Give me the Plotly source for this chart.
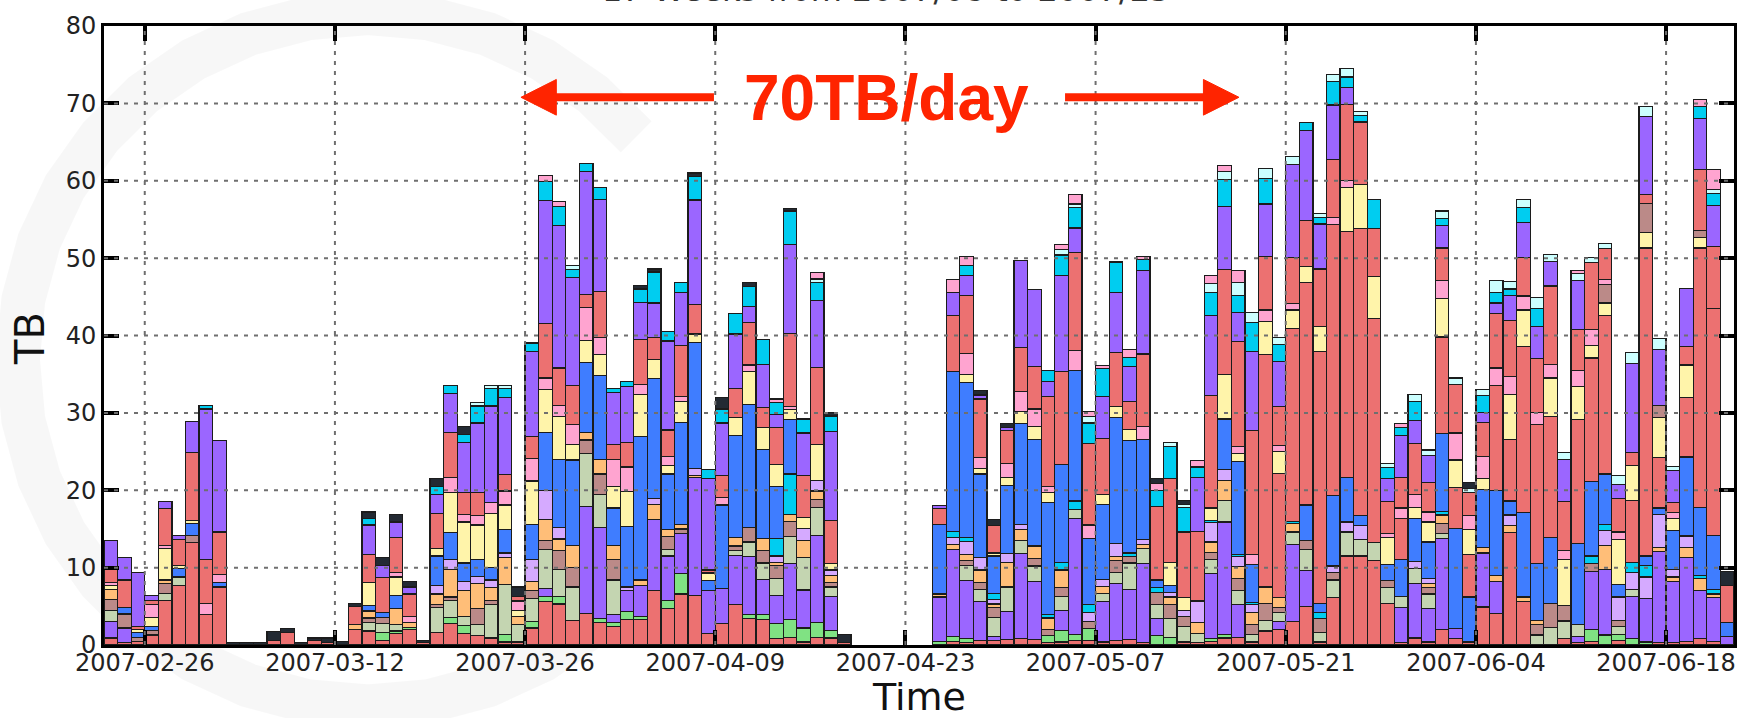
import math
import plotly.graph_objects as go
import pandas as pd

# ---------------- data ----------------
dates = pd.date_range("2007-02-23", periods=120, freq="D")
tick_dates = ["2007-02-26", "2007-03-12", "2007-03-26", "2007-04-09", "2007-04-23",
              "2007-05-07", "2007-05-21", "2007-06-04", "2007-06-18"]
y_ticks = [0, 10, 20, 30, 40, 50, 60, 70, 80]

red_low = [
    .9, .3, .5, 1.3, 5.8, 7.7, 13.2, 3.9, 7.5, 0,
    0, 0, .6, 1.6, 0, .6, .3, 0, 2.0, 1.8,
    .6, 1.5, 2.0, .3, 1.6, 2.8, 1.5, 1.2, .9, .4,
    .4, 2.2, 5.6, 5.3, 3.2, 4.1, 2.9, 2.4, 3.3, 3.3,
    7.0, 4.7, 6.6, 6.4, 1.5, 2.8, 5.2, 3.4, 3.3, .8,
    1.0, .4, 1.0, .9, .3, 0, 0, 0, 0, 0,
    0, 0, .5, .3, .6, .6, .7, .8, .7, .3,
    .4, .6, .6, .4, .6, .7, .3, 0, 0, .4,
    .3, .5, .9, 1.0, .4, 1.8, 2.0, 3.0, 5.0, .4,
    6.1, 11.5, 11.5, 10.9, 5.4, .3, .9, .4, 2.0, .8,
    .4, 4.9, 4.1, 14.5, 5.6, 0, 0, .8, .3, .5,
    0, .6, 0, 0, .3, .3, .5, .8, .5, 0]

green = [
    0, 0, 0, 0, 0, 0, 0, 0, 0, 0,
    0, 0, 0, 0, 0, 0, 0, 0, 0, 0,
    1.0, .3, .3, 0, 0, .8, 1.0, 0, 0, 1.0,
    0, .8, .7, 1.0, 0, 0, .5, .5, 1.0, .4,
    0, 1.1, 2.6, 0, 0, 0, 0, .5, .6, 2.0,
    2.3, 1.8, 1.9, 1.0, 0, 0, 0, 0, 0, 0,
    0, .5, .6, .5, 0, 0, 0, 0, 0, .9,
    1.5, .8, 1.5, 0, 0, 0, 0, 1.2, 1.0, 0,
    0, .3, .5, 0, 0, 0, 0, 0, 0, 0,
    0, 0, 0, 0, 0, 0, 0, 0, 0, 0,
    0, 0, 0, 0, 0, 0, 0, 0, 0, 1.5,
    1.3, .8, .8, .4, 0, 0, 0, 0, 0, 0]

purple_low = [
    2.1, 1.9, 0, 0, 0, 0, 0, 0, 0, 0,
    0, 0, 0, 0, 0, 0, 0, 0, 0, 0,
    0, 0, 0, 0, 0, 0, 0, 0, 0, 0,
    0, 0, 1.0, 0, 0, 13.8, 11.8, 1.0, 2.7, 4.0,
    9.2, 5.7, 5.2, 15.2, 5.5, 4.5, 6.4, 7.5, 4.6, 3.6,
    7.2, 4.9, 11.3, 4.4, 0, 0, 0, 0, 0, 0,
    0, 5.7, 11.2, 7.5, 5.0, .5, 3.6, 11.0, 7.5, 0,
    2.6, 15.0, 0, 5.2, 7.3, 6.5, 10.2, 2.2, 0, 0,
    0, 8.4, 14.5, 4.2, 0, 0, 1.0, 10.0, 4.6, 0,
    0, 0, 0, 0, 0, 4.5, 7.0, 4.3, 11.8, 1.3,
    0, 7.0, 4.1, 0, 0, 0, 0, 0, .8, 7.5,
    8.5, 0, 5.5, 5.6, 11.8, 7.9, 10.8, 6.2, 5.6, 1.1]

sage = [
    1.5, 0, 0, 0, .9, 1.1, 0, 0, 0, 0,
    0, 0, 0, 0, 0, 0, 0, 0, 0, 1.1,
    1.2, .9, 0, 0, 3.2, 2.2, 1.2, 1.5, 4.3, 6.4,
    2.3, 3.0, 5.0, 3.5, 4.3, 6.8, 4.2, 4.5, 0, 0,
    0, .8, 0, 0, 0, 0, .6, 1.9, 2.1, 2.2,
    3.5, 4.2, 3.6, 1.2, 0, 0, 0, 0, 0, 0,
    0, 0, 0, 2.0, 1.6, 2.5, 3.2, 1.7, 2.0, 0,
    1.8, 1.1, 0, 1.1, 1.5, 3.4, 2.0, 1.8, 2.4, 2.0,
    1.2, 1.8, 2.8, 1.8, 1.0, 1.4, 1.2, 1.6, 2.7, 1.2,
    2.3, 3.1, 2.1, 2.3, 2.0, 1.5, 2.0, 1.9, .6, 0,
    0, 0, 0, 0, 0, 1.3, 2.3, 2.3, 1.5, 0,
    0, 1.0, .9, 0, 0, 0, 0, 0, 0, 0]

rosy = [
    1.4, 1.8, .5, .6, 1.2, 0, 1.0, 0, 0, 0,
    0, 0, 0, 0, 0, 0, 0, 0, 0, .6,
    .8, 0, 0, 0, .4, .4, 0, 2.0, .6, 0,
    0, 1.0, 1.2, 2.4, 2.5, 1.8, 2.7, 2.6, 0, 0,
    0, 1.7, .6, 0, 0, 0, .6, 1.9, 1.6, 1.7,
    2.0, 0, 1.0, .6, 0, 0, 0, 0, 0, 0,
    0, 0, 0, .6, .9, 1.2, 0, 0, 1.0, .8,
    1.1, 0, .9, 0, 1.5, .8, 0, 1.6, 1.8, 1.3,
    0, 1.0, 0, 1.6, 1.2, 2.2, .6, 0, 1.2, 1.8,
    1.0, 0, 0, 0, .9, 0, 0, .8, 1.3, 0,
    0, 0, 0, 0, 0, 1.3, 3.1, 2.0, 0, 1.0,
    0, .8, 0, 0, 0, 0, 0, 0, 0, 0]

orange = [
    1.3, 0, 0, 0, .5, 0, 0, 0, 0, 0,
    0, 0, 0, 0, 0, 0, 0, 0, .7, .9,
    0, 2.0, .6, 0, 1.4, 3.6, 3.3, 3.2, 1.6, 3.5,
    1.0, 1.2, 2.7, 1.5, 2.9, 1.0, 1.9, 1.9, 0, .7,
    2.0, .9, .6, .3, 0, 0, 1.1, 0, 1.6, .4,
    .9, 2.2, 1.1, .9, 0, 0, 0, 0, 0, 0,
    0, .4, .7, .8, 1.6, .5, 3.2, 1.4, 1.6, 1.5,
    2.3, 0, 0, .9, .5, 0, .5, 0, 1.0, 0,
    1.4, 1.3, 2.6, 1.5, 1.6, 2.1, 1.3, 1.1, 0, 0,
    0, 0, 0, 0, 0, 0, 0, .5, 1.1, 0,
    0, .7, .8, .9, .6, .6, 0, 0, 0, 0,
    3.1, 0, 0, 0, .5, .6, 1.3, 1.6, .5, 0]

lavender = [
    0, 0, 0, 0, 0, 0, 0, 0, 0, 0,
    0, 0, 0, 0, 0, 0, 0, 0, 0, 0,
    0, 0, 0, 0, 1.1, 1.2, 1.2, 1.0, 1.0, .6,
    0, 2.8, 3.8, 1.5, 0, 0, 0, 0, .5, 0,
    .7, 0, 0, .9, 0, 0, 0, 0, 0, .8,
    0, 1.6, 1.4, .7, 0, 0, 0, 0, 0, 0,
    0, 0, .9, 1.7, 1.6, .6, 1.1, .7, 0, 0,
    0, 0, 1.2, .9, 1.7, 0, .6, 0, .6, .8,
    2.8, 2.5, 1.4, 1.3, 1.0, 0, 0, 0, 0, 0,
    .8, 1.3, 1.8, 0, 0, 0, .9, .7, 0, 0,
    0, 0, 0, 1.4, 0, 0, 0, 0, 0, 0,
    1.9, 3.0, 2.2, 2.8, 4.3, 1.0, 1.5, 0, 0, 0]

cyan_low_by_day = {49: 2.3, 50: 5.2, 62: .8, 63: .5, 65: .8, 69: .4, 70: 1.0, 71: 1.1,
                   72: 1.0, 75: .5, 77: .6, 81: .3, 83: .3, 84: .3, 87: .3, 89: .8,
                   98: .5, 109: 1.0, 110: .8, 112: 1.3, 113: 1.5, 117: .4, 118: .6}

blue = [
    0, .8, .6, .5, 0, 1.1, 1.5, 0, .6, 0,
    0, 0, 0, 0, 0, 0, 0, 0, 0, .7,
    .6, 1.7, 0, 0, 3.8, 3.5, 2.4, 2.2, 1.6, 3.0,
    0, 4.6, 7.5, 8.8, 11.0, 9.0, 10.8, 4.8, 7.8, 18.5,
    15.5, 7.2, 13.2, 16.3, 1.3, 10.8, 13.2, 15.9, 11.5, 6.7,
    7.0, 0, 0, 0, 0, 0, 0, 0, 0, 0,
    0, 9.0, 20.6, 20.0, 10.8, 4.8, 8.8, 13.0, 13.8, 14.5,
    12.6, 16.9, 8.6, 9.7, 16.3, 14.5, 13.0, 1.0, .9, 0,
    0, 0, 6.5, 12.0, 4.9, 0, 0, 0, 4.6, 1.2,
    9.1, 5.7, 1.3, 0, 2.1, 4.8, 5.5, 4.7, 10.0, 13.0,
    5.8, 7.5, 11.0, 1.8, 10.9, 7.3, 8.5, 0, 10.5, 9.6,
    6.5, 1.6, 0, 1.2, .8, 5.0, 10.2, 8.8, 7.0, 1.8]

red_mid_by_day = {85: 30.0, 86: 16.1, 87: 24.9, 88: 28.7, 89: 32.5, 90: 35.0, 91: 31.8,
                  92: 37.1, 93: 29.0, 95: 5.3, 98: 12.5, 99: 5.3, 100: 5.5, 102: 13.5,
                  103: 8.0, 104: 21.5, 105: 18.0, 106: 15.6, 108: 16.0, 109: 16.0,
                  110: 20.5, 112: 8.0, 113: 39.8, 114: 6.5, 116: 7.7, 117: 33.5,
                  118: 29.3, 119: 4.8}

yellow = [
    .5, 0, .4, 1.2, 4.1, .4, .4, 0, 0, 0,
    0, 0, 0, 0, 0, 0, 0, 0, 0, 3.0,
    0, 2.4, 0, 0, 1.0, 5.2, 5.3, 4.4, 7.0, 3.2,
    .8, 5.6, 5.5, 5.5, 2.0, 2.9, 2.7, 2.8, 4.5, 5.5,
    2.5, 1.1, 2.7, 1.1, 1.0, 0, 2.3, 4.2, 2.8, 2.8,
    1.3, 1.4, 4.6, .8, 0, 0, 0, 0, 0, 0,
    0, 0, 0, 1.1, .7, .4, 1.1, 1.6, 1.6, 1.3,
    0, 0, 0, 1.2, 1.4, 1.5, 0, 0, 3.0, 1.6,
    0, 1.6, 5.8, 1.0, 0, 4.3, 2.8, 2.4, 2.1, 3.3,
    0, 5.7, 5.7, 5.4, 3.5, 0, 1.5, 2.6, 5.0, 3.5,
    3.2, 1.4, 0, 5.8, 4.7, 0, 5.0, 6.0, 4.3, 1.6,
    1.6, 5.8, 4.5, 2.0, 5.2, 1.6, 4.2, 1.4, 0, 0]

rosy_high_by_day = {110: 2.4, 113: 3.8, 114: 1.6, 117: .9}

pink_by_day = {0: .4, 3: 1.6, 4: .4, 7: 1.5, 8: 1.0, 21: .6, 22: .8, 25: 2.0, 26: 1.0,
               27: 1.2, 28: 1.4, 29: 1.8, 30: 1.2, 31: 2.9, 32: 1.5, 33: 1.5, 34: 2.6,
               35: 4.2, 36: 2.2, 37: 3.5, 38: 3.2, 39: 1.3, 41: 1.2, 42: .6, 45: 1.0,
               47: .9, 50: .4, 63: 2.7, 64: 1.4, 66: 1.8, 67: 2.6, 68: 2.3, 69: .8,
               71: 2.6, 72: 1.7, 76: 1.6, 83: 1.0, 84: 1.3, 85: 1.5, 86: .8, 87: .8,
               90: 1.0, 91: .9, 94: .5, 95: 1.3, 96: 1.7, 97: 1.3, 98: 2.3, 99: 3.5,
               100: 1.8, 101: 2.9, 102: 2.3, 103: 2.3, 104: 1.8, 105: 1.5, 106: 1.8,
               107: 1.1, 108: 2.1, 109: 2.1, 110: .6, 111: 1.0, 115: .7}

red_high = [
    1.8, 3.6, .4, .6, 4.7, 3.3, 8.8, 5.6, 5.5, 0,
    0, 0, 0, 0, 0, 0, 0, 0, 2.3, 3.6,
    4.5, 4.5, 2.9, 0, 4.5, 5.8, 2.8, 3.0, 0, 2.1,
    .6, 2.8, 7.0, 4.8, 5.0, 1.7, 6.0, 1.9, 3.2, 5.8,
    2.8, 3.4, 6.6, 3.8, .4, 2.8, 3.8, 5.5, 2.6, 4.8,
    9.5, 5.4, 10.0, 5.6, 0, 0, 0, 0, 0, 0,
    0, 2.0, 7.3, 7.5, 7.6, 3.5, 4.2, 5.7, 5.5, 11.6,
    12.0, 12.6, 10.5, 7.3, 7.0, 3.6, 9.4, 9.5, 10.8, 8.5,
    9.0, 14.5, 13.5, 13.5, 16.0, 6.9, 5.0, 6.0, 6.0, 7.4,
    7.4, 9.9, 8.1, 6.2, 4.1, 4.0, 6.5, 3.8, 4.2, 6.3,
    3.0, 4.4, 7.0, 7.2, 5.0, 7.0, 10.1, 6.3, 5.3, 8.6,
    4.0, 4.3, 1.7, 1.1, 0, 1.3, 2.4, 7.9, 8.0, 0]

purple_high = [
    3.6, 2.9, 7.0, .6, .9, .6, 4.0, 19.5, 11.8, 0,
    0, 0, 0, 0, 0, 0, 0, 0, 0, 3.8,
    1.6, 2.0, .9, 0, 2.5, 5.0, 6.5, 9.0, 12.5, 10.0,
    0, 11.0, 15.9, 18.4, 14.0, 15.9, 11.9, 6.7, 7.2, 4.8,
    4.5, 11.5, 6.9, 13.5, 11.8, 6.8, 7.0, 2.0, 5.6, 1.7,
    11.5, 5.5, 8.6, 11.5, 0, 0, 0, 0, 0, 0,
    0, .4, 3.0, 2.6, .5, 0, .4, 11.2, 9.9, 2.0,
    12.5, 3.2, 0, 5.4, 7.8, 4.5, 10.8, 0, 0, 0,
    7.0, 10.4, 8.2, 3.8, 10.2, 6.8, 5.8, 12.0, 11.6, 5.8,
    7.1, 2.2, 0, 0, 3.0, 5.4, 3.0, 3.5, 2.9, 0,
    0, 1.2, 1.4, 3.3, 4.5, 4.2, 3.2, 5.5, 6.3, 0,
    0, 1.8, 11.5, 10.1, 7.2, 4.2, 7.5, 6.5, 5.3, 0]

cyan = [
    0, 0, 0, 0, 0, 0, 0, .5, 0, 0,
    0, 0, 0, 0, 0, 0, 0, 0, 0, .8,
    0, 0, 0, 0, 1.0, 1.0, 1.0, 2.2, 2.2, 1.2,
    0, 1.1, 2.5, 2.5, 1.0, 1.0, 1.5, .6, .7, 1.7,
    4.0, 1.2, 1.2, 3.0, 1.2, 1.8, 2.6, 2.6, 3.2, 1.5,
    4.3, 1.8, 2.4, 2.0, 0, 0, 0, 0, 0, 0,
    0, 0, 0, 1.2, 0, 0, 0, 0, 0, 1.4,
    2.6, 2.6, 2.7, 3.6, 3.9, 1.2, 1.4, 2.1, 4.2, 3.2,
    1.3, 3.0, 3.5, 2.2, 3.8, 3.3, 2.2, 0, 1.0, .9,
    3.0, 1.3, .8, 3.8, 1.4, 1.0, 2.5, 0, .9, 0,
    0, 2.2, 1.4, .8, 1.9, 2.3, 0, 0, 0, 0,
    0, 0, 0, 0, 0, 0, 0, 1.6, 1.6, 0]

light_cyan_by_day = {27: .4, 28: .4, 29: .3, 31: .1, 34: .5, 52: .4, 70: .7, 71: .5, 72: .8,
                     78: .5, 79: .4, 81: 1.1, 82: 1.0, 83: 1.6, 84: 1.3, 85: 1.3, 86: .9,
                     87: 1.0, 89: .5, 90: .9, 91: 1.1, 92: .6, 94: .6, 96: .9, 97: .7,
                     98: 1.0, 99: .8, 100: .5, 101: .8, 102: 1.5, 103: 1.0, 104: 1.1,
                     105: 1.4, 106: .9, 107: .9, 108: .9, 109: .7, 110: .7, 111: 1.2,
                     112: 1.4, 113: 1.3, 114: 1.4, 115: .5, 118: .5}

pink_top_by_day = {32: .8, 33: .6, 49: .5, 52: .8, 62: 1.6, 63: 1.2, 70: .7, 71: 1.2,
                   72: .7, 73: .4, 75: 1.0, 76: .4, 77: .9, 80: .8, 81: 1.1, 82: .8,
                   83: 1.6, 95: .5, 108: .4, 117: .9, 118: 2.6}

dark_by_day = {9: .3, 10: .3, 11: .3, 12: 1.1, 13: .5, 14: .3, 15: .3, 16: .6, 17: .5,
               18: .4, 19: .9, 20: 1.0, 21: 1.0, 22: .7, 23: .3, 24: 1.0, 26: 1.0,
               30: 1.2, 39: .5, 40: .4, 43: .5, 45: 1.5, 47: .5, 50: .3, 53: .4,
               54: 1.1, 64: .6, 65: .8, 66: .5, 77: .6, 79: .5, 100: .8, 119: 1.8}


def expand(by_day):
    vals = [0.0] * len(dates)
    for k, v in by_day.items():
        vals[k] = v
    return vals


# stacking order, bottom to top
series = [
    ("red_low", red_low, "#ec7171"),
    ("green", green, "#80e283"),
    ("purple_low", purple_low, "#9b66ff"),
    ("sage", sage, "#c4d5b1"),
    ("rosy", rosy, "#bb8a88"),
    ("orange", orange, "#ffbe78"),
    ("lavender", lavender, "#d5aaff"),
    ("cyan_low", expand(cyan_low_by_day), "#00cdf0"),
    ("blue", blue, "#3f7dff"),
    ("red_mid", expand(red_mid_by_day), "#ec7171"),
    ("yellow", yellow, "#fff4aa"),
    ("rosy_high", expand(rosy_high_by_day), "#bb8a88"),
    ("pink", expand(pink_by_day), "#ffa4d0"),
    ("red_high", red_high, "#ec7171"),
    ("purple_high", purple_high, "#9b66ff"),
    ("cyan", cyan, "#00cdf0"),
    ("light_cyan", expand(light_cyan_by_day), "#ccffff"),
    ("pink_top", expand(pink_top_by_day), "#ffa4d0"),
    ("dark", expand(dark_by_day), "#232a33"),
]

# ---------------- figure ----------------
fig = go.Figure()
DAY_MS = 86400000
for name, vals, color in series:
    assert len(vals) == len(dates), name
    fig.add_trace(go.Bar(
        x=dates, y=[v if v else None for v in vals], name=name,
        width=DAY_MS, offset=0,
        marker=dict(color=color, line=dict(color="#1c1c1c", width=1.2)),
        showlegend=False))

font_ticks = dict(family="DejaVu Sans", size=24, color="#222222")
fig.update_layout(
    width=1749, height=718,
    margin=dict(l=104, r=15, t=21, b=73),
    paper_bgcolor="white", plot_bgcolor="white",
    barmode="stack",
    xaxis=dict(
        type="date", range=["2007-02-23", "2007-06-23"],
        tickvals=tick_dates, tickformat="%Y-%m-%d", tickfont=font_ticks,
        ticklabelstandoff=-6,
        showgrid=False, zeroline=False,
        showline=True, linecolor="black", linewidth=3, mirror="ticks",
        ticks="inside", ticklen=15, tickwidth=4, tickcolor="black",
        layer="above traces"),
    yaxis=dict(
        range=[0, 80], tickvals=y_ticks, tickfont=font_ticks,
        showgrid=False, zeroline=False,
        showline=True, linecolor="black", linewidth=3, mirror="ticks",
        ticks="inside", ticklen=15, tickwidth=4, tickcolor="black",
        layer="above traces"),
)

# faint "C"-shaped watermark arc behind the bars (page pixel geometry -> paper coords)
PL, PW, PB, PH = 104, 1630, 645, 625
cx, cy, rad = 368, 357, 350


def to_paper(px, py):
    return (px - PL) / PW, (PB - py) / PH


pts = []
for k in range(0, 29):
    ang = math.radians(40 + k * 10)
    pts.append(to_paper(cx + rad * math.cos(ang), cy - rad * math.sin(ang)))
arc_path = "M " + " L ".join(f"{x:.4f},{y:.4f}" for x, y in pts)
fig.add_shape(type="path", xref="paper", yref="paper", path=arc_path,
              line=dict(color="rgba(0,0,0,0.03)", width=44), layer="below")

# dotted grid drawn over the bars
grid = dict(color="#6f6f6f", width=2, dash="4px,6px")
for yv in y_ticks[1:-1]:
    fig.add_shape(type="line", xref="paper", yref="y", x0=0, x1=1, y0=yv, y1=yv,
                  line=grid, layer="above")
for xd in tick_dates:
    fig.add_shape(type="line", xref="x", yref="paper", x0=xd, x1=xd, y0=0, y1=1,
                  line=grid, layer="above")

# axis titles
fig.add_annotation(text="Time", xref="paper", yref="paper", x=0.5, y=-0.084,
                   showarrow=False, yanchor="middle",
                   font=dict(family="DejaVu Sans", size=38, color="#111111"))
fig.add_annotation(text="TB", xref="paper", yref="paper", x=-0.0454, y=0.496,
                   xanchor="center", yanchor="middle",
                   showarrow=False, textangle=-90,
                   font=dict(family="DejaVu Sans", size=40, color="#111111"))
# title (mostly cut off at the top of the page)
fig.add_annotation(text="17 Weeks from 2007/08 to 2007/25", xref="paper", yref="paper",
                   x=0.48, y=1.058, showarrow=False, yanchor="middle",
                   font=dict(family="DejaVu Sans", size=32, color="#333333"))

# 70TB/day callout with arrows
red_call = "#ff2400"
fig.add_annotation(text="<b>70TB/day</b>", xref="paper", yref="paper",
                   x=0.4798, y=0.8832, showarrow=False, yanchor="middle",
                   font=dict(family="Liberation Sans", size=64, color=red_call))
ya = 0.8848
hh = 0.0288
fig.add_shape(type="line", xref="paper", yref="paper", x0=0.3742, x1=0.2760,
              y0=ya, y1=ya, line=dict(color=red_call, width=8))
fig.add_shape(type="path", xref="paper", yref="paper",
              path=f"M 0.2558 {ya} L 0.2775 {ya + hh} L 0.2775 {ya - hh} Z",
              fillcolor=red_call, line=dict(color=red_call, width=1))
fig.add_shape(type="line", xref="paper", yref="paper", x0=0.5896, x1=0.6760,
              y0=ya, y1=ya, line=dict(color=red_call, width=8))
fig.add_shape(type="path", xref="paper", yref="paper",
              path=f"M 0.6963 {ya} L 0.6745 {ya + hh} L 0.6745 {ya - hh} Z",
              fillcolor=red_call, line=dict(color=red_call, width=1))

fig.write_html("out.html")
